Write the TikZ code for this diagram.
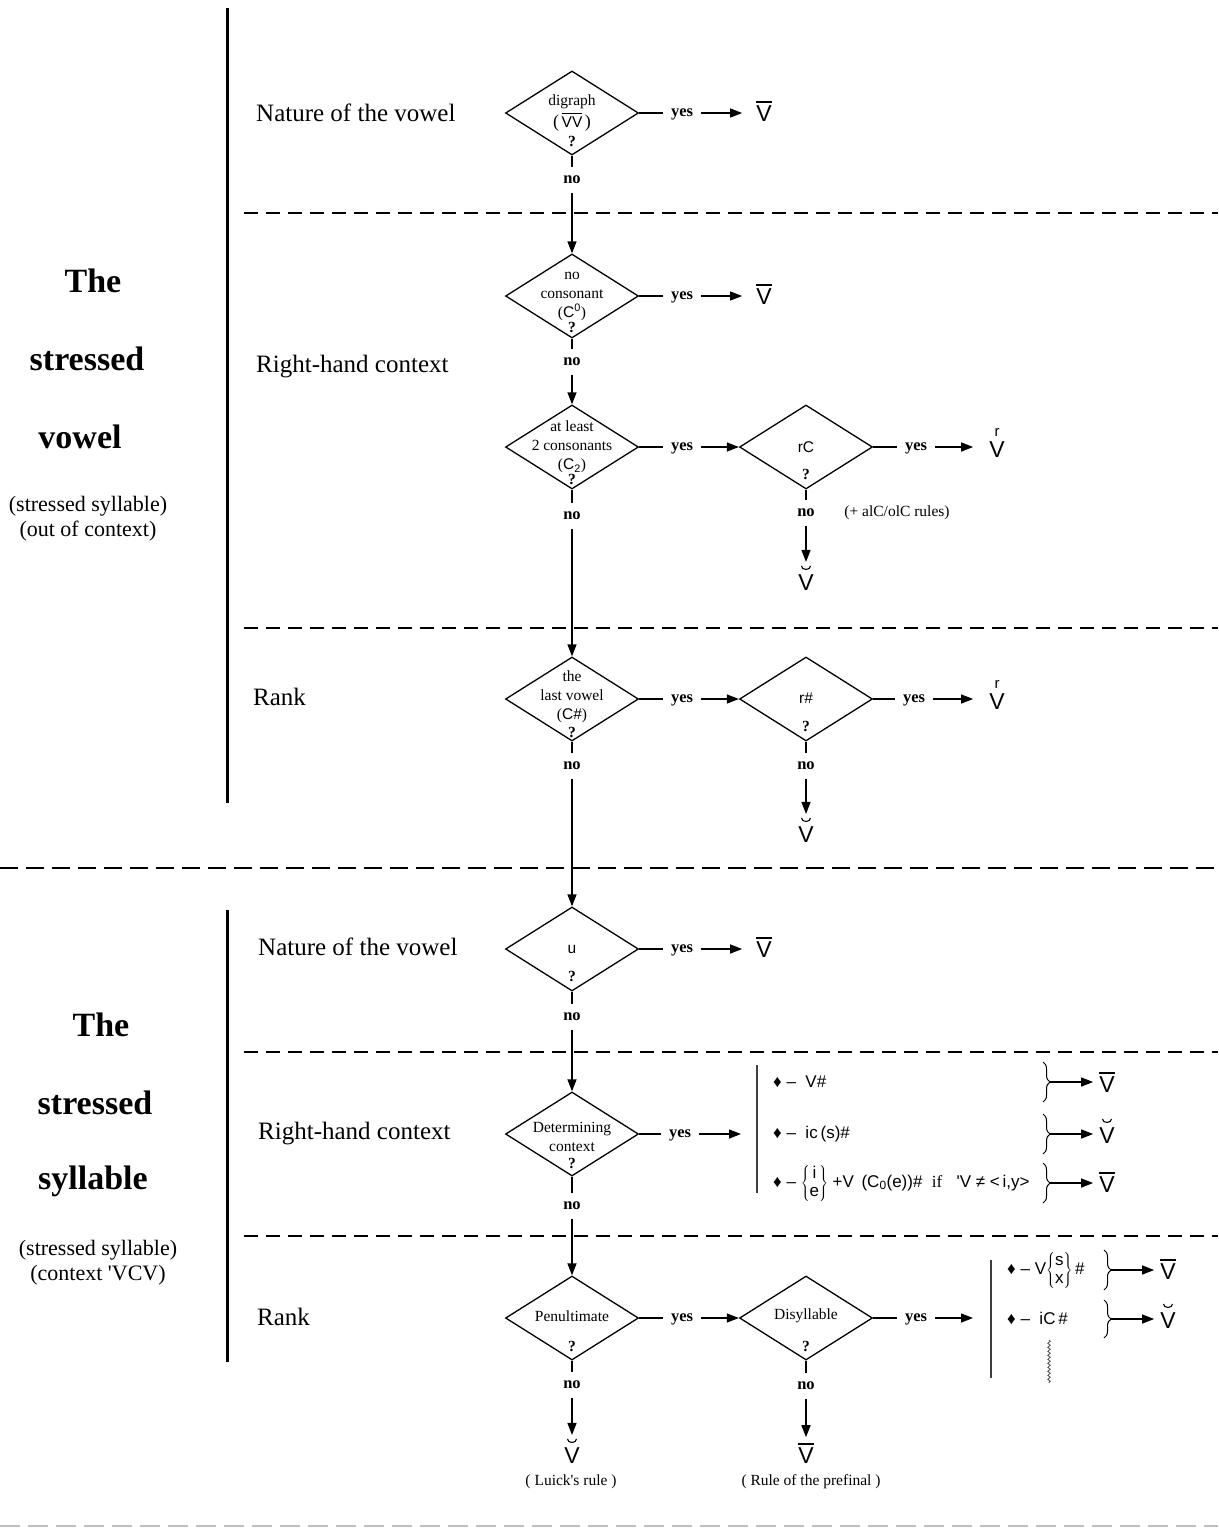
\documentclass[tikz,border=0pt]{standalone}
\usepackage{fontspec}
\setmainfont{Liberation Serif}
\setsansfont{Liberation Sans}
\usetikzlibrary{shapes.geometric,arrows.meta,decorations.pathreplacing,decorations.pathmorphing}
\newcommand\ovl[1]{\vbox{\offinterlineskip\halign{##\cr\leaders\hrule height 1.3pt\hfill\cr\noalign{\kern 2.5pt}#1\cr}}}
\newcommand\Vbar{\ovl{\sffamily V}}
\newcommand\stk[2]{\vcenter{\hbox{\begin{tabular}{@{}c@{}}#1\\[-2pt]#2\end{tabular}}}}
\begin{document}
\begin{tikzpicture}[x=1pt,y=-1pt,
  dia/.style={draw,diamond,minimum width=133pt,minimum height=84pt,inner sep=0pt,line width=1.3pt},
  dtxt/.style={font=\fontsize{15.5}{19}\selectfont,align=center,inner sep=0pt},
  qm/.style={font=\fontsize{15.5}{18}\selectfont\bfseries,inner sep=0pt},
  yes/.style={font=\fontsize{16.5}{18}\selectfont\bfseries,inner xsep=8pt,inner ysep=1pt,text height=1ex,text depth=0pt,yshift=-1pt},
  nolab/.style={font=\fontsize{16.5}{18}\selectfont\bfseries,inner xsep=1pt,inner ysep=9pt},
  res/.style={font=\fontsize{23}{26}\selectfont\sffamily,inner sep=0pt,anchor=base},
  rsup/.style={font=\fontsize{15}{16}\selectfont\sffamily,inner sep=0pt,anchor=base},
  brv/.style={line width=1.1pt},
  ln/.style={line width=1.3pt},
  arr/.style={line width=1.3pt,-{Triangle[length=12pt,width=9pt]}},
  sec/.style={font=\fontsize{25}{30}\selectfont,anchor=west,inner sep=0pt},
  big/.style={font=\fontsize{34}{40}\selectfont\bfseries,inner sep=0pt},
  sub/.style={font=\fontsize{22}{25}\selectfont,align=center,inner sep=0pt},
  dsh/.style={line width=1.8pt,dash pattern=on 14pt off 8pt},
  rulet/.style={font=\fontsize{17}{20}\selectfont\sffamily,anchor=west,inner sep=0pt},
  note/.style={font=\fontsize{15.5}{18}\selectfont,inner sep=0pt},
  brc/.style={decorate,decoration={brace,amplitude=7pt},line width=1pt},
]
\fill[white] (0,0) rectangle (1218,1528);
\useasboundingbox (0,0) rectangle (1218,1528);

% frame lines
\draw[line width=3pt] (227,8) -- (227,803);
\draw[line width=3pt] (227,910) -- (227,1362);
\draw[dsh] (244,213) -- (1218,213);
\draw[dsh] (244,628) -- (1218,628);
\draw[line width=2.6pt,dash pattern=on 18pt off 8pt] (0,868) -- (1218,868);
\draw[dsh] (244,1052) -- (1218,1052);
\draw[dsh] (244,1236) -- (1218,1236);
\draw[gray!50,line width=2pt,dash pattern=on 20pt off 8pt] (0,1526) -- (1218,1526);

% left titles
\node[big] (t1) at (93,281) {The};
\node[big] (t2) at (87,359) {stressed};
\node[big] (t3) at (80,437) {vowel};
\node[sub] (t4) at (88,519) {(stressed syllable)\\(out of context)};
\node[big] (t5) at (101,1025) {The};
\node[big] (t6) at (95,1103) {stressed};
\node[big] (t7) at (93,1181) {syllable};
\node[sub] (t8) at (98,1263) {(stressed syllable)\\(context \textquotesingle VCV)};

% section labels
\node[sec] (s1) at (256,113) {Nature of the vowel};
\node[sec] (s2) at (256,367) {Right-hand context};
\node[sec] (s3) at (253,697) {Rank};
\node[sec] (s4) at (258,947) {Nature of the vowel};
\node[sec] (s5) at (258,1134) {Right-hand context};
\node[sec] (s6) at (257,1317) {Rank};

% diamonds
\node[dia] (d1) at (572,113) {};
\node[dia] (d2) at (572,296) {};
\node[dia] (d3) at (572,447) {};
\node[dia] (d4) at (572,699) {};
\node[dia] (d5) at (572,949) {};
\node[dia] (d6) at (572,1134) {};
\node[dia] (d7) at (572,1318) {};
\node[dia] (rc) at (806,447) {};
\node[dia] (rh) at (806,699) {};
\node[dia] (ds) at (806,1318) {};

% diamond texts
\node[dtxt,font=\fontsize{15.5}{22}\selectfont] (d1t) at (572,113) {digraph\\{\fontsize{18}{18}\selectfont(}\,\ovl{\sffamily VV}\,{\fontsize{18}{18}\selectfont)}};
\node[qm] (d1q) at (572,141) {?};
\node[dtxt] (d2t) at (572,296) {no\\consonant\\(\textsf{C}\textsuperscript{\sffamily 0})};
\node[qm] (d2q) at (572,327) {?};
\node[dtxt] (d3t) at (572,447) {at least\\2 consonants\\(\textsf{C}\textsubscript{\sffamily 2})};
\node[qm] (d3q) at (572,479) {?};
\node[dtxt] (d4t) at (572,697) {the\\last vowel\\(\textsf{C\#})};
\node[qm] (d4q) at (572,732) {?};
\node[dtxt,font=\fontsize{15.5}{18}\selectfont\sffamily] (d5t) at (572,949) {u};
\node[qm] (d5q) at (572,976) {?};
\node[dtxt] (d6t) at (572,1137) {Determining\\context};
\node[qm] (d6q) at (572,1163) {?};
\node[dtxt] (d7t) at (572,1316) {Penultimate};
\node[qm] (d7q) at (572,1346) {?};
\node[dtxt,font=\fontsize{15.5}{18}\selectfont\sffamily] (rct) at (806,447) {rC};
\node[qm] (rcq) at (806,474) {?};
\node[dtxt,font=\fontsize{15.5}{18}\selectfont\sffamily] (rht) at (806,698) {r\#};
\node[qm] (rhq) at (806,726) {?};
\node[dtxt] (dst) at (806,1316) {Disyllable};
\node[qm] (dsq) at (806,1346) {?};

% yes labels and results (main column)
\node[yes] (y1) at (682,113) {yes};
\node[res] (v1) at (764,121) {\Vbar};
\draw[ln] (d1.east) -- (y1.west |- d1.east);
\draw[arr,shorten >=14pt] (y1.east |- d1.east) -- (v1.west |- d1.east);

\node[yes] (y2) at (682,296) {yes};
\node[res] (v2) at (764,304) {\Vbar};
\draw[ln] (d2.east) -- (y2.west |- d2.east);
\draw[arr,shorten >=14pt] (y2.east |- d2.east) -- (v2.west |- d2.east);

\node[yes] (y3) at (682,447) {yes};
\draw[ln] (d3.east) -- (y3.west |- d3.east);
\draw[arr] (y3.east |- d3.east) -- (rc.west);

\node[yes] (y4) at (682,699) {yes};
\draw[ln] (d4.east) -- (y4.west |- d4.east);
\draw[arr] (y4.east |- d4.east) -- (rh.west);

\node[yes] (y5) at (682,949) {yes};
\node[res] (v5) at (764,957) {\Vbar};
\draw[ln] (d5.east) -- (y5.west |- d5.east);
\draw[arr,shorten >=14pt] (y5.east |- d5.east) -- (v5.west |- d5.east);

\node[yes] (y6) at (680,1134) {yes};
\coordinate (bar6) at (757,1134);
\draw[ln] (d6.east) -- (y6.west |- d6.east);
\draw[arr,shorten >=16pt] (y6.east |- d6.east) -- (bar6);

\node[yes] (y7) at (682,1318) {yes};
\draw[ln] (d7.east) -- (y7.west |- d7.east);
\draw[arr] (y7.east |- d7.east) -- (ds.west);

% second column yes
\node[yes] (y8) at (916,447) {yes};
\node[res] (v8) at (997,457) {V};
\node[rsup] (v8r) at (997,436) {r};
\draw[ln] (rc.east) -- (y8.west |- rc.east);
\draw[arr,shorten >=16pt] (y8.east |- rc.east) -- (v8.west |- rc.east);

\node[yes] (y9) at (914,699) {yes};
\node[res] (v9) at (997,709) {V};
\node[rsup] (v9r) at (997,688) {r};
\draw[ln] (rh.east) -- (y9.west |- rh.east);
\draw[arr,shorten >=16pt] (y9.east |- rh.east) -- (v9.west |- rh.east);

\node[yes] (y10) at (916,1318) {yes};
\coordinate (bar10) at (991,1318);
\draw[ln] (ds.east) -- (y10.west |- ds.east);
\draw[arr,shorten >=18pt] (y10.east |- ds.east) -- (bar10);

% no labels main column
\node[nolab] (n1) at (572,180) {no};
\draw[ln] (d1.south) -- (n1.north);
\draw[arr] (n1.south) -- (d2.north);
\node[nolab] (n2) at (572,362) {no};
\draw[ln] (d2.south) -- (n2.north);
\draw[arr] (n2.south) -- (d3.north);
\node[nolab] (n3) at (572,516) {no};
\draw[ln] (d3.south) -- (n3.north);
\draw[arr] (n3.south) -- (d4.north);
\node[nolab] (n4) at (572,766) {no};
\draw[ln] (d4.south) -- (n4.north);
\draw[arr] (n4.south) -- (d5.north);
\node[nolab] (n5) at (572,1017) {no};
\draw[ln] (d5.south) -- (n5.north);
\draw[arr] (n5.south) -- (d6.north);
\node[nolab] (n6) at (572,1206) {no};
\draw[ln] (d6.south) -- (n6.north);
\draw[arr] (n6.south) -- (d7.north);
\node[nolab] (n7) at (572,1385) {no};
\node[res] (v7) at (572,1463) {V};
\draw[brv] ([xshift=-4.5pt,yshift=8pt]v7.north) arc (180:360:4.5pt and 3.5pt);
\draw[ln] (d7.south) -- (n7.north);
\draw[arr,shorten >=12pt] (n7.south) -- (v7.north);
\node[note] (luick) at (571,1482) {( Luick\textquotesingle s rule )};

% no labels second column
\node[nolab] (n8) at (806,513) {no};
\node[res] (v8b) at (806,590) {V};
\draw[brv] ([xshift=-4.5pt,yshift=8pt]v8b.north) arc (180:360:4.5pt and 3.5pt);
\draw[ln] (rc.south) -- (n8.north);
\draw[arr,shorten >=12pt] (n8.south) -- (v8b.north);
\node[note] (alc) at (897,513) {(+ alC/olC rules)};

\node[nolab] (n9) at (806,766) {no};
\node[res] (v9b) at (806,842) {V};
\draw[brv] ([xshift=-4.5pt,yshift=8pt]v9b.north) arc (180:360:4.5pt and 3.5pt);
\draw[ln] (rh.south) -- (n9.north);
\draw[arr,shorten >=12pt] (n9.south) -- (v9b.north);

\node[nolab] (n10) at (806,1386) {no};
\node[res] (v10) at (806,1463) {\Vbar};
\draw[ln] (ds.south) -- (n10.north);
\draw[arr,shorten >=6pt] (n10.south) -- (v10.north);
\node[note] (pref) at (811,1482) {( Rule of the prefinal )};

% right-hand context rules
\draw[line width=1.6pt,black!75] (757,1065) -- (757,1193);
\node[rulet] (r1) at (773,1082) {♦ –\ \ V\#};
\node[rulet] (r2) at (773,1134) {♦ –\ \ ic\,(s)\#};
\node[rulet] (r3) at (773,1183) {♦ – $\left\{\stk{i}{e}\right\}$ +V\,\ (C\textsubscript{0}(e))\#\ \ {\rmfamily if}\ \ \ \textquotesingle V ≠ <\,i,y>};
\draw[brc] (1043,1062) -- (1043,1102);
\draw[brc] (1043,1114) -- (1043,1154);
\draw[brc] (1043,1163) -- (1043,1203);
\coordinate (b1) at (1050,1082);
\coordinate (b2) at (1050,1134);
\coordinate (b3) at (1050,1183);
\node[res] (w1) at (1107,1092) {\Vbar};
\node[res] (w2) at (1107,1143) {V};
\draw[brv] ([xshift=-4.5pt,yshift=8pt]w2.north) arc (180:360:4.5pt and 3.5pt);
\node[res] (w3) at (1107,1192) {\Vbar};
\draw[arr,shorten >=6pt] (b1) -- (w1.west |- b1);
\draw[arr,shorten >=6pt] (b2) -- (w2.west |- b2);
\draw[arr,shorten >=6pt] (b3) -- (w3.west |- b3);

% rank rules
\draw[line width=1.6pt,black!75] (991,1260) -- (991,1378);
\node[rulet] (r4) at (1007,1270) {♦ – V$\left\{\stk{s}{x}\right\}$\,\#};
\node[rulet] (r5) at (1007,1318) {♦ – \ iC\,\#};
\draw[brc] (1104,1250) -- (1104,1290);
\draw[brc] (1104,1300) -- (1104,1338);
\coordinate (b4) at (1111,1270);
\coordinate (b5) at (1111,1319);
\node[res] (w4) at (1168,1279) {\Vbar};
\node[res] (w5) at (1168,1328) {V};
\draw[brv] ([xshift=-4.5pt,yshift=8pt]w5.north) arc (180:360:4.5pt and 3.5pt);
\draw[arr,shorten >=6pt] (b4) -- (w4.west |- b4);
\draw[arr,shorten >=6pt] (b5) -- (w5.west |- b5);
\draw[black!70,line width=0.8pt,decorate,decoration={snake,amplitude=1.2pt,segment length=4pt}] (1049,1340) -- (1049,1383);
\end{tikzpicture}
\end{document}
